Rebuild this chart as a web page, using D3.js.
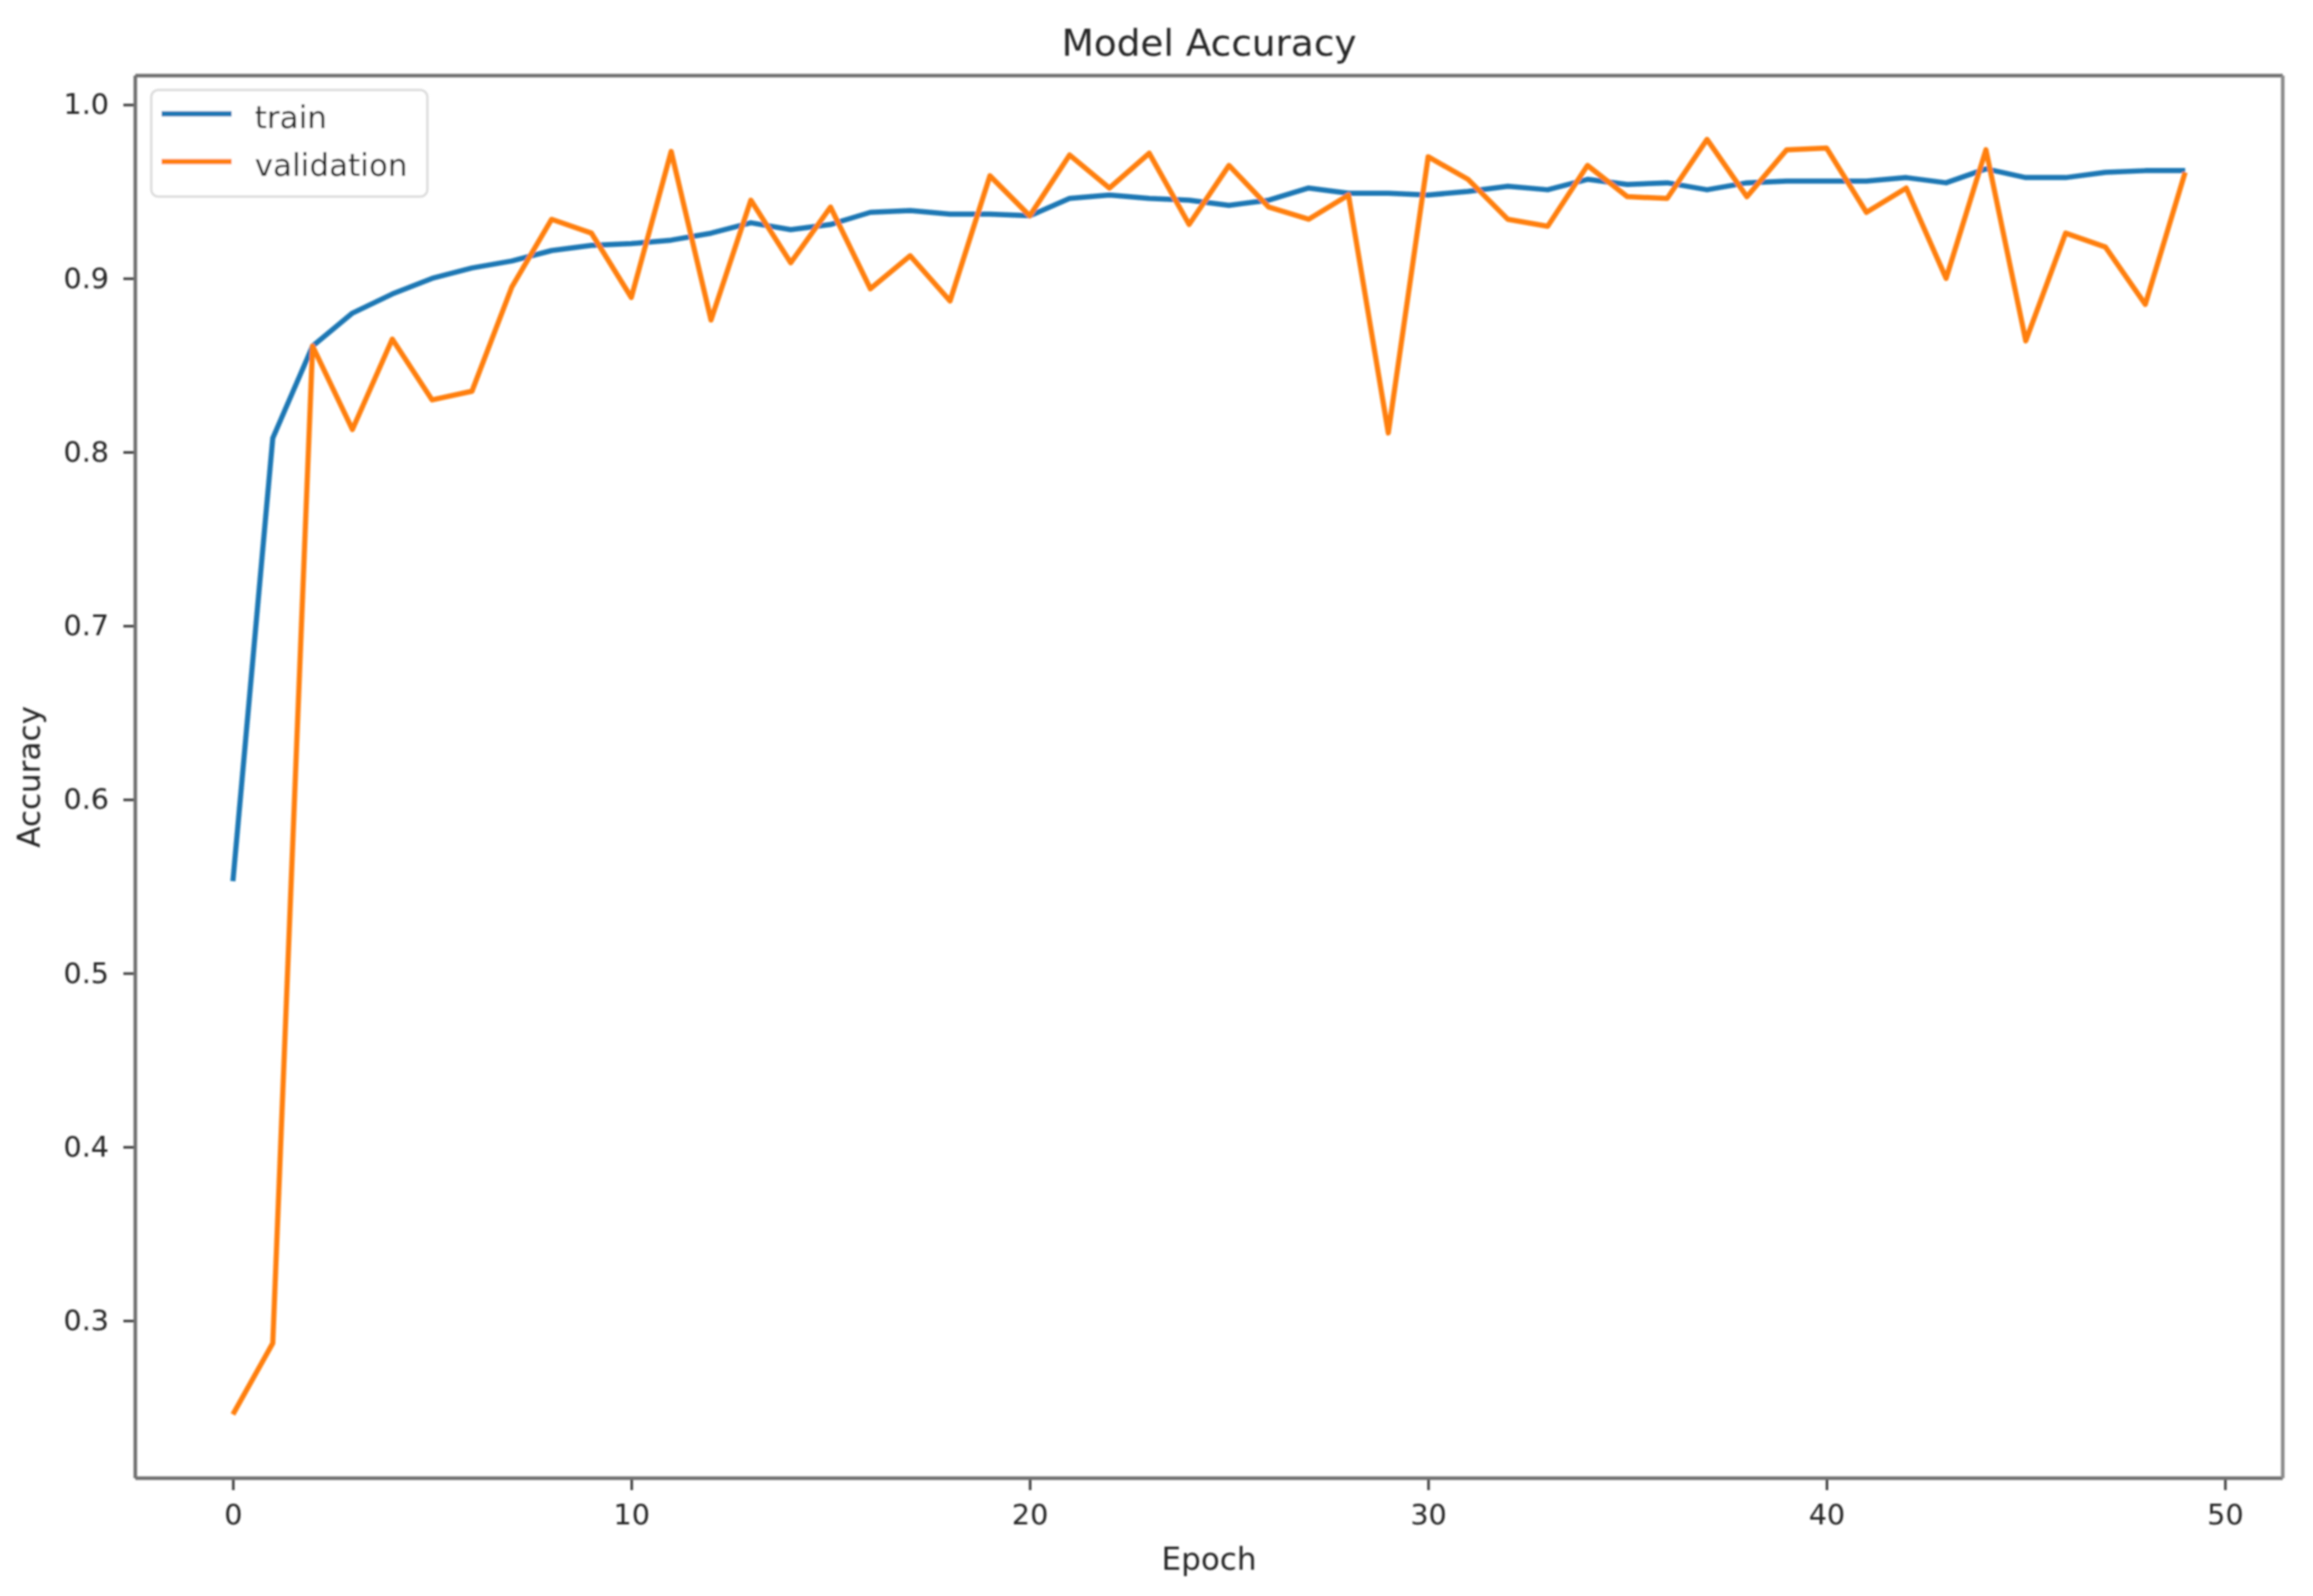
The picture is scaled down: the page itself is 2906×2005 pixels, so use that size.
<!DOCTYPE html>
<html>
<head>
<meta charset="utf-8">
<script src="https://cdn.jsdelivr.net/npm/d3@7/dist/d3.min.js"></script>
<style>
  html, body { margin: 0; padding: 0; background: #ffffff; }
  svg { display: block; }
  text { font-family: "DejaVu Sans", sans-serif; fill: #262626; }
</style>
</head>
<body>
<script>
// ---- data ----
const epochs = [0,1,2,3,4,5,6,7,8,9,10,11,12,13,14,15,16,17,18,19,20,21,22,23,24,25,26,27,28,29,30,31,32,33,34,35,36,37,38,39,40,41,42,43,44,45,46,47,48,49];
const trainAcc = [0.553, 0.808, 0.861, 0.880, 0.891, 0.900, 0.906, 0.910, 0.916, 0.919,
                  0.920, 0.922, 0.926, 0.932, 0.928, 0.931, 0.938, 0.939, 0.937, 0.937,
                  0.936, 0.946, 0.948, 0.946, 0.945, 0.942, 0.945, 0.952, 0.949, 0.949,
                  0.948, 0.950, 0.953, 0.951, 0.957, 0.954, 0.955, 0.951, 0.955, 0.956,
                  0.956, 0.956, 0.958, 0.955, 0.963, 0.958, 0.958, 0.961, 0.962, 0.962];
const valAcc = [0.246, 0.287, 0.861, 0.813, 0.865, 0.830, 0.835, 0.895, 0.934, 0.926,
                0.889, 0.973, 0.876, 0.945, 0.909, 0.941, 0.894, 0.913, 0.887, 0.959,
                0.936, 0.971, 0.952, 0.972, 0.931, 0.965, 0.941, 0.934, 0.948, 0.811,
                0.970, 0.957, 0.934, 0.930, 0.965, 0.947, 0.946, 0.980, 0.947, 0.974,
                0.975, 0.938, 0.952, 0.900, 0.974, 0.864, 0.926, 0.918, 0.885, 0.961];
const seriesNames = ["train", "validation"];
const seriesColors = ["#1f77b4", "#ff7f0e"];
const xTicks = [0, 10, 20, 30, 40, 50];
const yTicks = [0.3, 0.4, 0.5, 0.6, 0.7, 0.8, 0.9, 1.0];
const titleText = "Model Accuracy";
const xLabel = "Epoch";
const yLabel = "Accuracy";

// ---- layout ----
const W = 2906, H = 2005;
const plot = { left: 170, right: 2868, top: 95, bottom: 1857 };
const fontSize = 39, tickFont = 36, titleSize = 47, lineW = 6.5;

const svg = d3.select("body").append("svg").attr("width", W).attr("height", H);
const defs = svg.append("defs");
defs.append("filter").attr("id", "soft").attr("x", "-5%").attr("y", "-5%").attr("width", "110%").attr("height", "110%")
  .append("feGaussianBlur").attr("stdDeviation", 0.9);
svg.append("rect").attr("width", W).attr("height", H).attr("fill", "#ffffff");
const root = svg.append("g").attr("filter", "url(#soft)");

// scales with matplotlib-like 5% margins
const xExt = d3.extent(epochs);
const xPad = (xExt[1] - xExt[0]) * 0.05;
const x = d3.scaleLinear().domain([xExt[0] - xPad, xExt[1] + xPad]).range([plot.left, plot.right]);
const yExt = d3.extent(trainAcc.concat(valAcc));
const yPad = (yExt[1] - yExt[0]) * 0.05;
const y = d3.scaleLinear().domain([yExt[0] - yPad, yExt[1] + yPad]).range([plot.bottom, plot.top]);

// lines
const series = [trainAcc, valAcc];
const line = d3.line().x((d, i) => x(epochs[i])).y(d => y(d));
defs.append("clipPath").attr("id", "clip").append("rect")
  .attr("x", plot.left).attr("y", plot.top)
  .attr("width", plot.right - plot.left).attr("height", plot.bottom - plot.top);
const lines = root.append("g").attr("clip-path", "url(#clip)");
series.forEach((s, k) => {
  lines.append("path").datum(s)
    .attr("d", line)
    .attr("fill", "none")
    .attr("stroke", seriesColors[k])
    .attr("stroke-width", lineW)
    .attr("stroke-linejoin", "round")
    .attr("stroke-linecap", "butt");
});

// axes
const xAxis = root.append("g").attr("transform", `translate(0,${plot.bottom})`)
  .call(d3.axisBottom(x).tickValues(xTicks).tickFormat(d3.format("d")).tickSize(15).tickPadding(17));
const yAxis = root.append("g").attr("transform", `translate(${plot.left},0)`)
  .call(d3.axisLeft(y).tickValues(yTicks).tickFormat(d3.format(".1f")).tickSize(15).tickPadding(18));
[xAxis, yAxis].forEach(g => {
  g.select(".domain").remove();
  g.selectAll(".tick line").attr("stroke", "#3d3d3d").attr("stroke-width", 3.2);
  g.selectAll(".tick text").attr("font-size", tickFont).attr("font-family", "DejaVu Sans").attr("fill", "#262626");
});

// spines
const spine = root.append("g").attr("fill", "none").attr("stroke", "#6f6f6f").attr("stroke-width", 4.5);
spine.append("line").attr("x1", plot.left).attr("x2", plot.right).attr("y1", plot.top).attr("y2", plot.top);
spine.append("line").attr("x1", plot.left).attr("x2", plot.right).attr("y1", plot.bottom).attr("y2", plot.bottom);
spine.append("line").attr("x1", plot.left).attr("x2", plot.left).attr("y1", plot.top).attr("y2", plot.bottom);
spine.append("line").attr("x1", plot.right).attr("x2", plot.right).attr("y1", plot.top).attr("y2", plot.bottom)
  .attr("stroke", "#8a8a8a");

// title & labels
root.append("text").attr("x", (plot.left + plot.right) / 2).attr("y", 70)
  .attr("text-anchor", "middle").attr("font-size", titleSize).text(titleText);
root.append("text").attr("x", (plot.left + plot.right) / 2).attr("y", 1972)
  .attr("text-anchor", "middle").attr("font-size", fontSize).text(xLabel);
root.append("text").attr("transform", `translate(50,${(plot.top + plot.bottom) / 2}) rotate(-90)`)
  .attr("text-anchor", "middle").attr("font-size", fontSize).text(yLabel);

// legend
const lg = root.append("g").attr("transform", "translate(190,113)");
lg.append("rect").attr("width", 347).attr("height", 134).attr("rx", 9).attr("ry", 9)
  .attr("fill", "#ffffff").attr("fill-opacity", 0.8)
  .attr("stroke", "#dcdcdc").attr("stroke-width", 3);
seriesNames.forEach((name, k) => {
  const cy = 30 + k * 60;
  lg.append("line").attr("x1", 13).attr("x2", 101).attr("y1", cy).attr("y2", cy)
    .attr("stroke", seriesColors[k]).attr("stroke-width", lineW);
  lg.append("text").attr("x", 130).attr("y", cy + 18).attr("font-size", fontSize).text(name);
});
</script>
</body>
</html>
